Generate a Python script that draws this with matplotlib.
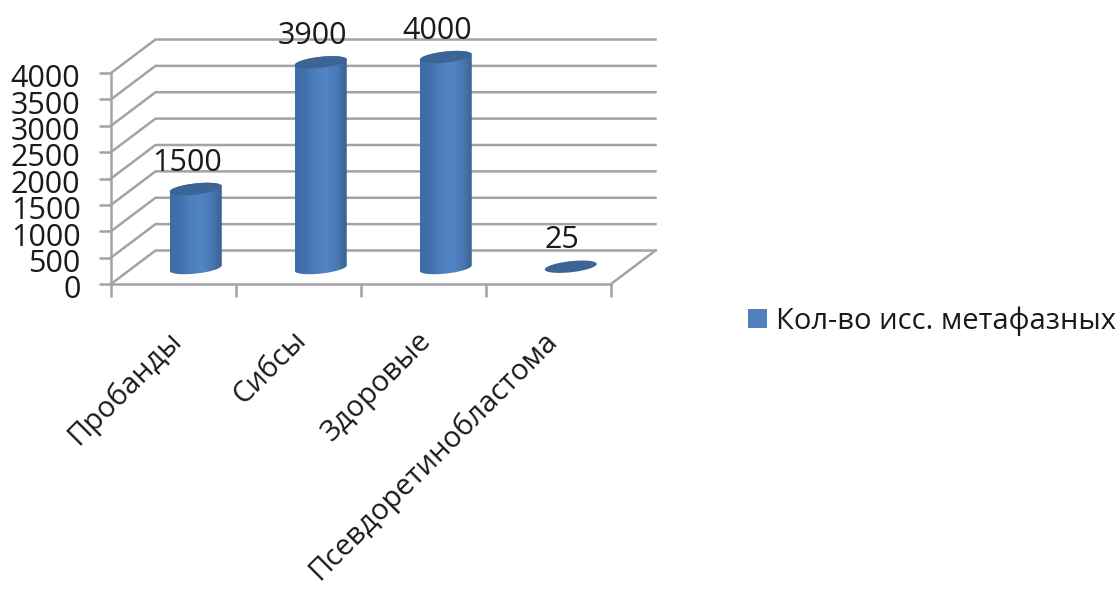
import numpy as np
import matplotlib
matplotlib.use('Agg')
import matplotlib.pyplot as plt
from matplotlib.colors import LinearSegmentedColormap
from matplotlib.patches import Patch, Polygon
from matplotlib.transforms import ScaledTranslation

categories = ['Пробанды', 'Сибсы', 'Здоровые', 'Псевдоретинобластома']
values = [1500, 3900, 4000, 25]
y_ticks = [0, 500, 1000, 1500, 2000, 2500, 3000, 3500, 4000]
series_name = 'Кол-во исс. метафазных'

plt.rcParams['font.family'] = ['Open Sans', 'DejaVu Sans']

W, H = 1120, 594
fig = plt.figure(figsize=(W / 100, H / 100), dpi=100)
ax = fig.add_axes([111 / W, 1 - 284 / H, 500 / W, 211 / H])
ax.set_xlim(0, len(categories))
ax.set_ylim(0, 4000)

# depth of the fake 3d box, in data units
depth_x = 0.356
depth_y = 635
grid_color = '#a3a3a3'
grid_lw = 1.8

for v in y_ticks:
    ax.plot([0, depth_x, len(categories) + depth_x], [v, v + depth_y, v + depth_y],
            color=grid_color, lw=grid_lw, clip_on=False, zorder=1)
ax.plot([len(categories), len(categories) + depth_x], [0, depth_y],
        color=grid_color, lw=grid_lw, clip_on=False, zorder=1)

# cylinder shading runs dark - light - dark across the width
side_cmap = LinearSegmentedColormap.from_list(
    'side', ['#3d6ca6', '#4272ae', '#4d7fbe', '#5285c5', '#4a79b5', '#38618f'])
gradient = np.linspace(0, 1, 200).reshape(1, -1)

half_w = 0.208
tilt = 52
half_h = 105
t = np.linspace(0, 2 * np.pi, 120)


def ring(cx, cy, angles):
    xs = cx + half_w * np.cos(angles)
    ys = cy + tilt * np.cos(angles) + half_h * np.sin(angles)
    return np.column_stack([xs, ys])


for i, val in enumerate(values):
    cx = i + 0.5 + depth_x / 2
    cy = depth_y / 2 - 15
    if val > 100:
        bottom = ring(cx, cy, np.linspace(np.pi, 2 * np.pi, 60))
        top = ring(cx, cy + val, np.linspace(0, np.pi, 60))
        body = Polygon(np.vstack([bottom, top]), closed=True, fc='none', ec='none',
                       transform=ax.transData)
        ax.add_patch(body)
        im = ax.imshow(gradient, cmap=side_cmap, aspect='auto', zorder=3,
                       extent=[cx - half_w, cx + half_w, cy - 300, cy + val + 300])
        im.set_clip_box(fig.bbox)
        im.set_clip_path(body)
    ax.add_patch(Polygon(ring(cx, cy + val, t), closed=True, fc='#3c6494', ec='none',
                         clip_on=False, zorder=4))
    ax.annotate(str(val), (cx, cy + val), xytext=(-6, 19), textcoords='offset points',
                ha='center', va='center', fontsize=22, color='#1a1a1a',
                annotation_clip=False, zorder=5)

ax.set_xlim(0, len(categories))
ax.set_ylim(0, 4000)

for side in ['top', 'right']:
    ax.spines[side].set_visible(False)
for side in ['left', 'bottom']:
    ax.spines[side].set_color(grid_color)
    ax.spines[side].set_linewidth(grid_lw)
    ax.spines[side].set_zorder(1)
ax.patch.set_alpha(0)

ax.set_yticks(y_ticks)
ax.tick_params(axis='y', length=9, width=grid_lw, color=grid_color, pad=13,
               labelsize=22, labelcolor='#1a1a1a')
for label in ax.get_yticklabels():
    label.set_transform(label.get_transform() + ScaledTranslation(0, -2 / 72, fig.dpi_scale_trans))

ax.set_xticks(range(len(categories) + 1))
ax.set_xticklabels([])
ax.tick_params(axis='x', which='major', length=9, width=grid_lw, color=grid_color)
ax.set_xticks(np.arange(len(categories)) + 0.5, minor=True)
ax.set_xticklabels(categories, minor=True, rotation=45, ha='right', va='top',
                   rotation_mode='anchor', fontsize=21, color='#1a1a1a')
ax.tick_params(axis='x', which='minor', length=0, pad=30)
for label in ax.get_xticklabels(minor=True):
    label.set_transform(label.get_transform() + ScaledTranslation(-5 / 72, 0, fig.dpi_scale_trans))

fig.legend(handles=[Patch(fc='#4f81bd', ec='none', label=series_name)],
           loc='center left', bbox_to_anchor=(748 / W, 1 - 321 / H), frameon=False,
           fontsize=21, handlelength=0.65, handleheight=0.65, handletextpad=0.3,
           labelcolor='#1a1a1a', borderpad=0, borderaxespad=0)

fig.savefig('out.png', dpi=100)
